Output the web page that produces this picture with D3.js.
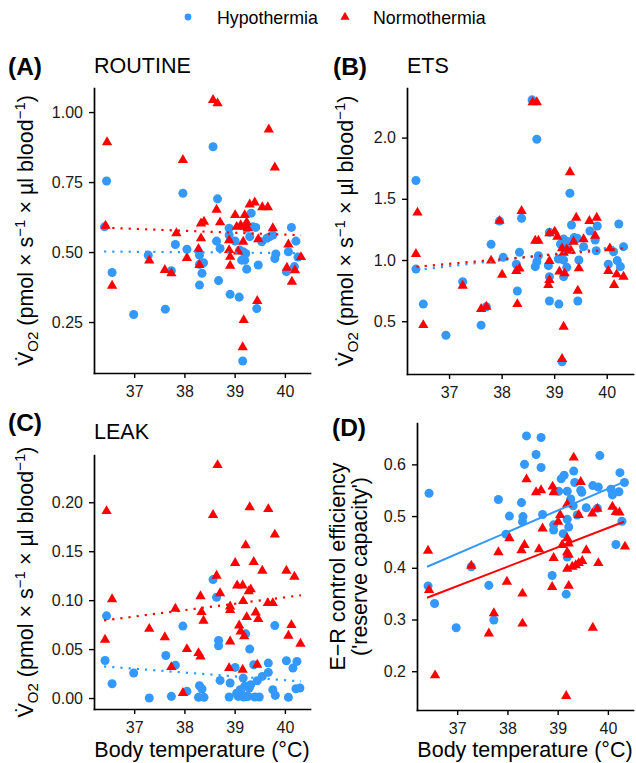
<!DOCTYPE html>
<html><head><meta charset="utf-8">
<script src="https://cdn.jsdelivr.net/npm/d3@7"></script>
<style>
body{margin:0;background:#fff}
svg{display:block}
text{font-family:"Liberation Sans",Arial,Helvetica,sans-serif}
</style>
</head><body>
<svg id="chart" width="636" height="763"></svg>
<script>
// ---------------- data ----------------
const groups = ["Hypothermia", "Normothermia"];
const xTicks = [37, 38, 39, 40];

const routineHypo = [[36.41,0.590],[36.45,0.754],[36.56,0.427],[36.99,0.277],[37.28,0.489],[37.62,0.296],[37.74,0.433],[37.82,0.527],[37.97,0.710],[38.05,0.510],[38.30,0.489],[38.30,0.456],[38.38,0.462],[38.35,0.424],[38.30,0.382],[38.57,0.876],[38.66,0.690],[38.64,0.539],[38.71,0.513],[38.68,0.398],[38.89,0.585],[38.89,0.561],[38.91,0.349],[39.01,0.539],[39.09,0.339],[39.10,0.507],[39.14,0.471],[39.20,0.471],[39.17,0.501],[39.22,0.495],[39.24,0.439],[39.24,0.585],[39.30,0.555],[39.33,0.639],[39.37,0.590],[39.42,0.588],[39.47,0.454],[39.44,0.298],[39.16,0.111],[39.54,0.537],[39.64,0.549],[39.70,0.555],[39.76,0.561],[39.80,0.477],[39.82,0.493],[40.03,0.430],[40.07,0.501],[40.13,0.588],[40.19,0.448],[40.22,0.539],[40.26,0.482]];
const routineNormo = [[36.43,0.594],[36.46,0.892],[36.56,0.380],[37.30,0.470],[37.61,0.436],[37.74,0.424],[37.84,0.567],[37.97,0.829],[38.05,0.479],[38.28,0.511],[38.30,0.454],[38.33,0.549],[38.33,0.602],[38.39,0.608],[38.57,1.043],[38.66,1.031],[38.64,0.651],[38.71,0.606],[38.89,0.542],[38.89,0.507],[38.91,0.483],[38.91,0.451],[39.01,0.632],[39.04,0.590],[39.07,0.502],[39.12,0.596],[39.17,0.537],[39.20,0.632],[39.20,0.590],[39.24,0.606],[39.26,0.585],[39.30,0.670],[39.40,0.677],[39.55,0.660],[39.66,0.660],[39.68,0.938],[39.80,0.802],[39.76,0.585],[39.47,0.546],[39.45,0.325],[39.18,0.257],[39.16,0.160],[40.04,0.444],[40.07,0.527],[40.14,0.394],[40.20,0.435],[40.32,0.482]];
const routineFitHypo = [[36.40,0.502],[40.32,0.496]];
const routineFitNormo = [[36.40,0.587],[40.32,0.560]];
const routineTicks = [0.25, 0.50, 0.75, 1.00];
const routineTickLabels = ["0.25", "0.50", "0.75", "1.00"];

const etsHypo = [[36.37,1.649],[36.37,0.926],[36.51,0.640],[36.94,0.386],[37.26,0.823],[37.61,0.468],[37.71,0.618],[37.80,1.128],[37.96,1.319],[38.03,1.022],[38.58,2.308],[38.67,1.986],[39.30,1.545],[38.38,1.341],[39.33,1.286],[40.23,1.294],[39.82,1.278],[39.68,1.237],[38.91,1.226],[39.18,1.172],[39.27,1.150],[39.38,1.183],[39.44,1.177],[39.78,1.163],[39.56,1.109],[39.80,1.076],[40.13,1.068],[40.32,1.109],[38.34,1.063],[38.70,1.035],[38.67,0.986],[38.64,0.946],[38.28,0.965],[38.89,0.954],[39.08,1.008],[39.18,1.000],[39.24,0.940],[39.47,1.000],[40.03,0.965],[40.20,0.995],[40.26,0.946],[38.91,0.864],[39.18,0.864],[38.30,0.747],[38.91,0.665],[39.09,0.640],[39.45,0.665],[39.15,0.169],[39.12,1.130],[39.22,1.120]];
const etsNormo = [[36.37,1.049],[36.40,1.387],[36.51,0.468],[37.26,0.790],[37.61,0.600],[37.71,0.618],[37.80,0.995],[37.96,1.320],[38.01,0.880],[38.59,2.289],[38.67,2.289],[39.30,1.717],[38.38,1.400],[39.42,1.346],[39.67,1.319],[39.81,1.346],[38.64,1.158],[38.70,1.158],[38.91,1.218],[39.01,1.232],[39.06,1.190],[39.37,1.150],[39.56,1.169],[39.78,1.199],[39.15,1.095],[39.24,1.087],[39.32,1.076],[39.18,1.060],[40.06,1.095],[38.91,0.992],[39.10,0.905],[39.20,0.891],[39.47,0.932],[38.28,0.910],[38.34,0.930],[38.91,0.837],[38.89,0.796],[40.03,0.910],[40.19,0.883],[40.32,0.864],[40.14,0.796],[39.45,0.749],[38.30,0.640],[39.18,0.455],[39.15,0.191]];
const etsFitHypo = [[36.38,0.918],[40.32,1.115]];
const etsFitNormo = [[36.38,0.945],[40.32,1.095]];
const etsTicks = [0.5, 1.0, 1.5, 2.0];
const etsTickLabels = ["0.5", "1.0", "1.5", "2.0"];

const leakHypo = [[36.42,0.0384],[36.45,0.084],[36.56,0.0146],[36.99,0.0255],[37.30,0.0],[37.63,0.0435],[37.74,0.0017],[37.82,0.0336],[37.97,0.0735],[38.05,0.0068],[38.57,0.121],[38.64,0.103],[39.80,0.074],[39.22,0.0656],[38.68,0.0588],[38.68,0.0534],[39.30,0.050],[39.01,0.0313],[40.03,0.0381],[40.24,0.0374],[40.16,0.0306],[39.38,0.034],[39.67,0.0357],[38.71,0.018],[38.91,0.0153],[39.17,0.0204],[39.29,0.0102],[39.45,0.0177],[39.55,0.0221],[39.67,0.0262],[39.76,0.0085],[39.81,0.0027],[40.22,0.0095],[40.30,0.0102],[40.07,0.0007],[38.30,0.0126],[38.35,0.0092],[38.28,0.0007],[38.39,0.0007],[38.89,0.001],[39.07,0.0017],[39.14,0.004],[39.24,0.0017],[39.20,0.012],[39.32,0.0136],[39.40,0.001],[39.49,0.001],[39.11,0.0085],[39.04,0.005],[39.18,0.001],[39.27,0.0017]];
const leakNormo = [[36.42,0.0595],[36.45,0.191],[36.56,0.101],[37.30,0.0707],[37.61,0.0622],[37.74,0.0316],[37.82,0.0912],[37.97,0.0051],[38.05,0.050],[38.66,0.238],[38.57,0.187],[39.30,0.195],[39.67,0.193],[39.80,0.167],[39.22,0.156],[39.01,0.138],[39.38,0.139],[39.55,0.130],[40.03,0.130],[40.19,0.124],[38.64,0.125],[38.71,0.107],[38.32,0.104],[39.05,0.115],[39.16,0.115],[39.28,0.109],[39.32,0.111],[39.17,0.099],[38.91,0.0935],[38.91,0.090],[39.66,0.097],[39.76,0.097],[38.34,0.0878],[38.38,0.079],[39.24,0.0827],[39.42,0.0874],[39.47,0.0806],[39.09,0.0741],[39.12,0.068],[39.19,0.063],[40.13,0.0745],[40.07,0.0636],[40.31,0.0554],[38.91,0.0578],[38.28,0.0459],[38.32,0.0425],[39.45,0.034],[38.89,0.0306],[39.16,0.0289]];
const leakFitHypo = [[36.40,0.0323],[40.32,0.0170]];
const leakFitNormo = [[36.40,0.0793],[40.32,0.1050]];
const leakTicks = [0.00, 0.05, 0.10, 0.15, 0.20];
const leakTickLabels = ["0.00", "0.05", "0.10", "0.15", "0.20"];

const reserveHypo = [[36.42,0.365],[36.44,0.544],[36.55,0.331],[36.98,0.284],[37.28,0.402],[37.63,0.366],[37.73,0.299],[37.82,0.532],[37.97,0.465],[38.04,0.500],[38.38,0.655],[38.67,0.652],[38.57,0.619],[39.84,0.617],[38.34,0.600],[38.67,0.594],[39.32,0.587],[40.24,0.584],[39.13,0.579],[39.07,0.572],[40.33,0.565],[39.34,0.565],[39.46,0.550],[39.70,0.559],[39.81,0.556],[40.06,0.552],[40.22,0.547],[40.09,0.541],[39.19,0.548],[39.02,0.548],[39.48,0.546],[39.26,0.533],[38.28,0.526],[39.31,0.520],[39.57,0.516],[39.79,0.515],[38.31,0.499],[38.30,0.489],[38.70,0.503],[39.19,0.494],[39.39,0.502],[39.22,0.479],[38.92,0.483],[38.92,0.473],[39.11,0.466],[40.28,0.490],[40.16,0.445],[38.89,0.385],[39.19,0.421],[39.17,0.349]];
const reserveNormo = [[36.42,0.433],[36.44,0.357],[36.56,0.192],[37.28,0.404],[37.63,0.273],[37.73,0.312],[37.82,0.430],[37.99,0.373],[38.04,0.457],[39.32,0.613],[38.38,0.571],[39.46,0.566],[38.57,0.546],[38.67,0.550],[38.90,0.557],[38.92,0.546],[39.19,0.523],[39.05,0.502],[39.01,0.489],[39.42,0.502],[39.69,0.505],[39.79,0.514],[40.09,0.518],[40.16,0.508],[40.23,0.507],[38.70,0.476],[39.19,0.457],[39.22,0.447],[39.09,0.444],[38.34,0.444],[38.28,0.434],[38.63,0.436],[38.92,0.419],[39.19,0.430],[39.22,0.425],[39.57,0.434],[39.81,0.409],[40.34,0.441],[39.49,0.413],[39.42,0.409],[39.36,0.405],[39.29,0.402],[39.19,0.398],[38.89,0.363],[39.22,0.365],[38.30,0.350],[38.30,0.292],[39.70,0.284],[39.17,0.152]];
const reserveFitHypo = [[36.40,0.402],[40.32,0.566]];
const reserveFitNormo = [[36.40,0.342],[40.32,0.489]];
const reserveTicks = [0.2, 0.3, 0.4, 0.5, 0.6];
const reserveTickLabels = ["0.2", "0.3", "0.4", "0.5", "0.6"];

// ---------------- styling / layout ----------------
const BLUE = "#3399ff", RED = "#ff0000", INK = "#000", TICKINK = "#1a1a1a";
const FONT_TICK = 16, FONT_TITLE = 21.5;
const xDomain = [36.2, 40.5];

const panels = [
  {tag:"(A)", title:"ROUTINE", hypo:routineHypo, normo:routineNormo, fitH:routineFitHypo, fitN:routineFitNormo,
   ticks:routineTicks, labels:routineTickLabels, yDom:[0.068,1.086], dotted:true,
   left:94, right:310, top:88, bottom:373, tagXY:[8,75], titleXY:[94,73], yTitleX:33, yTitle:"vo2", xTitle:false},
  {tag:"(B)", title:"ETS", hypo:etsHypo, normo:etsNormo, fitH:etsFitHypo, fitN:etsFitNormo,
   ticks:etsTicks, labels:etsTickLabels, yDom:[0.069,2.405], dotted:true,
   left:407, right:633, top:88, bottom:374, tagXY:[333,75], titleXY:[407,73], yTitleX:353, yTitle:"vo2", xTitle:false},
  {tag:"(C)", title:"LEAK", hypo:leakHypo, normo:leakNormo, fitH:leakFitHypo, fitN:leakFitNormo,
   ticks:leakTicks, labels:leakTickLabels, yDom:[-0.0112,0.2483], dotted:true,
   left:94, right:310, top:455, bottom:709, tagXY:[8,431], titleXY:[94,439], yTitleX:33, yTitle:"vo2", xTitle:true},
  {tag:"(D)", title:"", hypo:reserveHypo, normo:reserveNormo, fitH:reserveFitHypo, fitN:reserveFitNormo,
   ticks:reserveTicks, labels:reserveTickLabels, yDom:[0.125,0.680], dotted:false,
   left:417, right:633, top:423, bottom:710, tagXY:[332,436], titleXY:[417,439], yTitleX:345, yTitle:"erc", xTitle:true}
];

const svg = d3.select("#chart");
svg.append("rect").attr("width",636).attr("height",763).attr("fill","#fff");

const circleSym = d3.symbol().type(d3.symbolCircle).size(64);
const triSym = d3.symbol().type(d3.symbolTriangle).size(46);

// legend
const lg = svg.append("g").attr("class","legend");
lg.append("path").attr("d", d3.symbol().type(d3.symbolCircle).size(36)()).attr("transform","translate(188,17)").attr("fill",BLUE);
lg.append("text").attr("x",217).attr("y",24).attr("font-size",17.8).attr("fill",INK).text(groups[0]);
lg.append("path").attr("d", d3.symbol().type(d3.symbolTriangle).size(36)()).attr("transform","translate(345,17)").attr("fill",RED);
lg.append("text").attr("x",373).attr("y",24).attr("font-size",17.8).attr("fill",INK).text(groups[1]);

function vo2Title(g, x, yc) {
  const t = g.append("text")
    .attr("transform", `translate(${x},${yc}) rotate(-90)`)
    .attr("text-anchor","middle").attr("font-size",FONT_TITLE).attr("fill",INK);
  t.append("tspan").text("V\u0307");
  t.append("tspan").attr("font-size",15).attr("dy",5).text("O2");
  t.append("tspan").attr("dy",-5).text(" (pmol \u00d7 s");
  t.append("tspan").attr("font-size",15).attr("dy",-8).text("\u22121");
  t.append("tspan").attr("dy",8).text(" \u00d7 \u00b5l blood");
  t.append("tspan").attr("font-size",15).attr("dy",-8).text("\u22121");
  t.append("tspan").attr("dy",8).text(")");
}

panels.forEach(p => {
  const g = svg.append("g");
  const x = d3.scaleLinear().domain(xDomain).range([p.left, p.right]);
  const y = d3.scaleLinear().domain(p.yDom).range([p.bottom, p.top]);

  // points
  g.append("g").selectAll("path").data(p.hypo).join("path")
    .attr("d", circleSym()).attr("fill", BLUE)
    .attr("transform", d => `translate(${x(d[0])},${y(d[1])})`);
  g.append("g").selectAll("path").data(p.normo).join("path")
    .attr("d", triSym()).attr("fill", RED)
    .attr("transform", d => `translate(${x(d[0])},${y(d[1])})`);

  // fit lines
  const line = d3.line().x(d => x(d[0])).y(d => y(d[1]));
  [[p.fitH, BLUE], [p.fitN, RED]].forEach(([f, c]) => {
    const l = g.append("path").attr("d", line(f)).attr("fill","none").attr("stroke", c);
    if (p.dotted) l.attr("stroke-width", 2.2).attr("stroke-dasharray", "2.2 6");
    else l.attr("stroke-width", 2);
  });

  // axes
  const xa = g.append("g").attr("transform", `translate(0,${p.bottom})`)
    .call(d3.axisBottom(x).tickValues(xTicks).tickFormat(d3.format("d")).tickSize(5).tickSizeOuter(0).tickPadding(8));
  const ya = g.append("g").attr("transform", `translate(${p.left},0)`)
    .call(d3.axisLeft(y).tickValues(p.ticks).tickFormat((d,i) => p.labels[i]).tickSize(5).tickSizeOuter(0).tickPadding(6));
  [xa, ya].forEach(a => {
    a.selectAll(".domain").attr("stroke", INK).attr("stroke-width", 1.7).attr("stroke-linecap","square");
    a.selectAll(".tick line").attr("stroke", INK).attr("stroke-width", 1.4);
    a.selectAll(".tick text").attr("font-size", FONT_TICK).attr("fill", TICKINK)
      .attr("font-family", '"Liberation Sans",Arial,Helvetica,sans-serif');
  });

  // tag + title
  g.append("text").attr("x", p.tagXY[0]).attr("y", p.tagXY[1]).attr("font-size", 24.5)
    .attr("font-weight","bold").attr("fill",INK).text(p.tag);
  if (p.title) g.append("text").attr("x", p.titleXY[0]).attr("y", p.titleXY[1])
    .attr("font-size", FONT_TITLE).attr("fill",INK).text(p.title);

  // y title
  const yc = (p.top + p.bottom) / 2;
  if (p.yTitle === "vo2") vo2Title(g, p.yTitleX, yc);
  else {
    const t = g.append("text").attr("transform", `translate(${p.yTitleX},${yc}) rotate(-90)`)
      .attr("text-anchor","middle").attr("font-size",FONT_TITLE).attr("fill",INK);
    t.append("tspan").attr("x",0).attr("dy",0).text("E\u2212R control efficiency");
    t.append("tspan").attr("x",0).attr("dy",21.5).text("('reserve capacity')");
  }

  // x title
  if (p.xTitle) g.append("text").attr("x", (p.left + p.right)/2).attr("y", 757)
    .attr("text-anchor","middle").attr("font-size",FONT_TITLE).attr("fill",INK).text("Body temperature (\u00b0C)");
});
</script>
</body></html>
